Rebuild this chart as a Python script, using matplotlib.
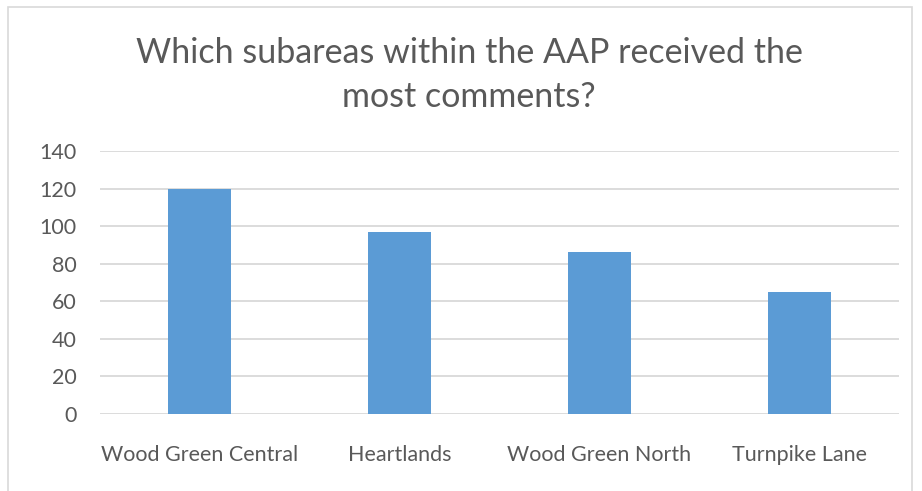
import matplotlib.pyplot as plt
from matplotlib.patches import Rectangle

categories = ['Wood Green Central', 'Heartlands', 'Wood Green North', 'Turnpike Lane']
comments = [120, 97, 86, 65]
yticks = [0, 20, 40, 60, 80, 100, 120, 140]

plt.rcParams['font.family'] = ['Lato', 'DejaVu Sans']

fig = plt.figure(figsize=(9.22, 4.91), dpi=100)
ax = fig.add_axes([0.1085, 0.1568, 0.8667, 0.5357])

ax.bar(range(len(categories)), comments, width=0.315, color='#5b9bd5', zorder=3)

ax.set_ylim(0, 140)
ax.set_xlim(-0.5, len(categories) - 0.5)
ax.set_yticks(yticks)
ax.set_xticks(range(len(categories)))
ax.set_xticklabels(categories)
ax.grid(axis='y', color='#d9d9d9', linewidth=1.3, zorder=0)
for s in ax.spines.values():
    s.set_visible(False)
ax.tick_params(length=0, labelsize=15.5, labelcolor='#595959')
ax.tick_params(axis='x', pad=22)
ax.tick_params(axis='y', pad=17)

fig.text(0.509, 0.847, 'Which subareas within the AAP received the\nmost comments?',
         ha='center', va='center', fontsize=24.5, color='#595959', linespacing=1.45)

# chart frame
fig.patches.append(Rectangle((8 / 922, -0.05), 904 / 922, 1.035, transform=fig.transFigure,
                             fill=False, edgecolor='#d9d9d9', linewidth=1.2))

fig.savefig('out.png', dpi=100)
